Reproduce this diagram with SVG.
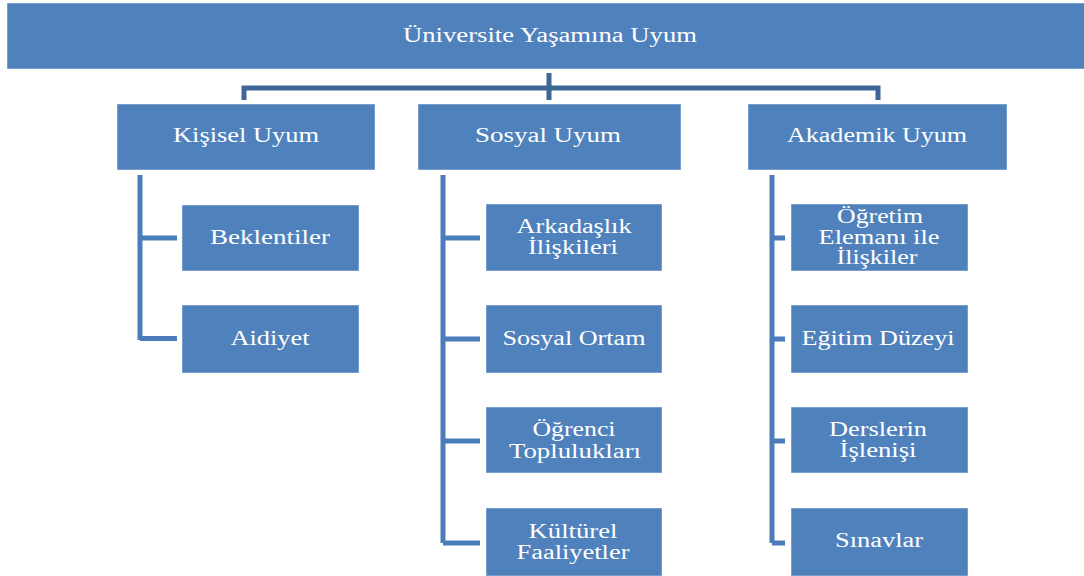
<svg xmlns="http://www.w3.org/2000/svg" width="1084" height="576" viewBox="0 0 1084 576">
<style>
.box{fill:#4F81BD;stroke:#ffffff;stroke-opacity:0.45;stroke-width:1}
.t{font-family:"Liberation Serif","Times New Roman",serif;font-size:20px;fill:#ffffff;text-anchor:middle}
.top{fill:none;stroke:#3E6696;stroke-width:5}
.sub{fill:none;stroke:#4A7DBA;stroke-width:5}
</style>
<rect x="0" y="0" width="1084" height="576" fill="#ffffff"/>
<g id="connectors">
<path class="top" d="M244,100 V88 H878 V100"/>
<path class="top" d="M549,73 V100"/>
<path class="sub" d="M140,175 V340 M140,238 H177 M140,338.5 H177"/>
<path class="sub" d="M443,175 V543 M443,238 H480 M443,339 H480 M443,441 H480 M443,543 H480"/>
<path class="sub" d="M772,175 V543 M772,238 H785 M772,339 H785 M772,441 H785 M772,543 H785"/>
</g>
<g id="root">
<rect class="box" x="7" y="3" width="1080" height="66"/>
<text class="t" x="550" y="42" textLength="294" lengthAdjust="spacingAndGlyphs">Üniversite Yaşamına Uyum</text>
</g>
<g id="kisisel">
<rect class="box" x="117" y="104" width="258" height="66"/>
<text class="t" x="246" y="142" textLength="146" lengthAdjust="spacingAndGlyphs">Kişisel Uyum</text>
</g>
<g id="sosyal">
<rect class="box" x="418" y="104" width="263" height="66"/>
<text class="t" x="548" y="142" textLength="146" lengthAdjust="spacingAndGlyphs">Sosyal Uyum</text>
</g>
<g id="akademik">
<rect class="box" x="748" y="104" width="259" height="66"/>
<text class="t" x="877" y="142" textLength="180" lengthAdjust="spacingAndGlyphs">Akademik Uyum</text>
</g>
<g id="beklentiler">
<rect class="box" x="182" y="205" width="177" height="66"/>
<text class="t" x="270" y="244" textLength="120" lengthAdjust="spacingAndGlyphs">Beklentiler</text>
</g>
<g id="aidiyet">
<rect class="box" x="182" y="305" width="177" height="68"/>
<text class="t" x="270" y="345" textLength="79" lengthAdjust="spacingAndGlyphs">Aidiyet</text>
</g>
<g id="arkadaslik">
<rect class="box" x="486" y="204" width="176" height="67"/>
<text class="t" x="574" y="233" textLength="115" lengthAdjust="spacingAndGlyphs">Arkadaşlık</text>
<text class="t" x="573" y="254" textLength="90" lengthAdjust="spacingAndGlyphs">İlişkileri</text>
</g>
<g id="sosyal-ortam">
<rect class="box" x="486" y="305" width="176" height="68"/>
<text class="t" x="574" y="345" textLength="143" lengthAdjust="spacingAndGlyphs">Sosyal Ortam</text>
</g>
<g id="ogrenci">
<rect class="box" x="486" y="407" width="176" height="66"/>
<text class="t" x="574" y="436" textLength="83" lengthAdjust="spacingAndGlyphs">Öğrenci</text>
<text class="t" x="575" y="458" textLength="132" lengthAdjust="spacingAndGlyphs">Toplulukları</text>
</g>
<g id="kulturel">
<rect class="box" x="486" y="508" width="176" height="68"/>
<text class="t" x="573" y="538" textLength="89" lengthAdjust="spacingAndGlyphs">Kültürel</text>
<text class="t" x="573" y="559" textLength="113" lengthAdjust="spacingAndGlyphs">Faaliyetler</text>
</g>
<g id="ogretim">
<rect class="box" x="791" y="204" width="177" height="67"/>
<text class="t" x="880" y="223" textLength="86" lengthAdjust="spacingAndGlyphs">Öğretim</text>
<text class="t" x="879" y="244" textLength="121" lengthAdjust="spacingAndGlyphs">Elemanı ile</text>
<text class="t" x="877" y="264" textLength="81" lengthAdjust="spacingAndGlyphs">İlişkiler</text>
</g>
<g id="egitim">
<rect class="box" x="791" y="305" width="177" height="68"/>
<text class="t" x="878" y="345" textLength="153" lengthAdjust="spacingAndGlyphs">Eğitim Düzeyi</text>
</g>
<g id="derslerin">
<rect class="box" x="791" y="407" width="177" height="66"/>
<text class="t" x="878" y="436" textLength="98" lengthAdjust="spacingAndGlyphs">Derslerin</text>
<text class="t" x="878" y="457" textLength="77" lengthAdjust="spacingAndGlyphs">İşlenişi</text>
</g>
<g id="sinavlar">
<rect class="box" x="791" y="508" width="177" height="68"/>
<text class="t" x="879" y="547" textLength="88" lengthAdjust="spacingAndGlyphs">Sınavlar</text>
</g>
</svg>
